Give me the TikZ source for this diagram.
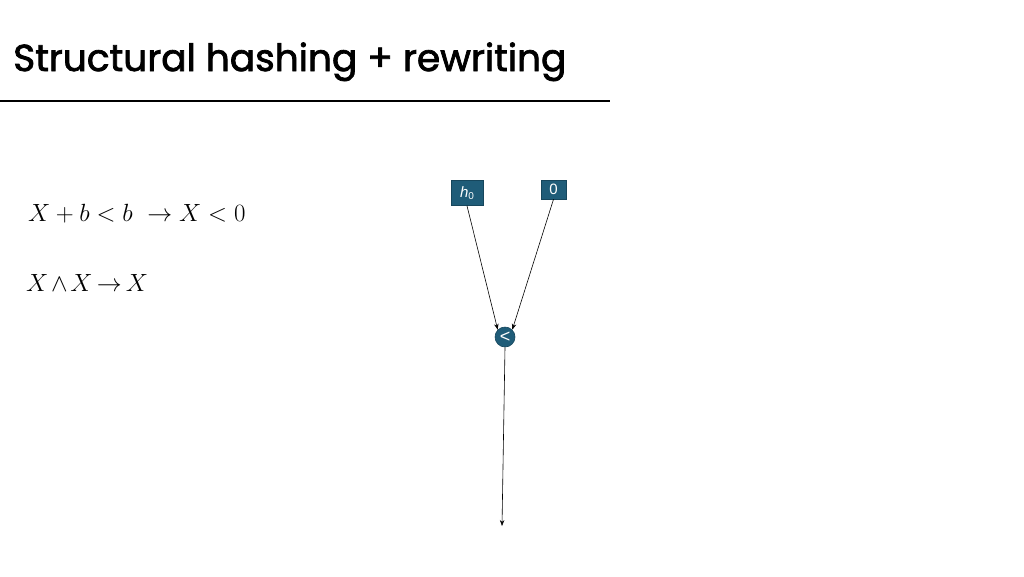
\documentclass[tikz,border=0pt]{standalone}
\usepackage{fontspec}
\newfontfamily\titlefont{Poppins}[FakeBold=2]
\newfontfamily\nodefont{Liberation Sans}
\usetikzlibrary{arrows.meta}
\definecolor{nodeblue}{HTML}{1F5C78}
\definecolor{nodeedge}{HTML}{16465C}
\tikzset{
  x=1pt,y=-1pt,
  gbox/.style={draw=nodeedge,fill=nodeblue,text=white,font=\nodefont\fontsize{15}{15}\selectfont,inner sep=0pt,line width=0.6pt},
  gop/.style={circle,draw=nodeedge,fill=nodeblue,text=white,font=\nodefont\fontsize{18}{18}\selectfont,inner sep=0pt,minimum size=20pt,line width=0.6pt},
  edge/.style={-{Stealth[length=6pt,width=4.5pt]},line width=0.6pt,black}
}
\begin{document}
\begin{tikzpicture}
\useasboundingbox (0,0) rectangle (1024,576);
\fill[white] (0,0) rectangle (1024,576);
\node[anchor=base west,inner sep=0pt,font=\titlefont\fontsize{37.5}{37.5}\selectfont] (title) at (13,71) {Structural hashing + rewriting};
\draw[line width=2pt] (0,101) -- (610,101);
\node[anchor=base west,inner sep=0pt,font=\fontsize{25}{25}\selectfont] (r1) at (28,221) {$X+b<b\ \rightarrow X<0$};
\node[anchor=base west,inner sep=0pt,font=\fontsize{25}{25}\selectfont] (r2) at (26,291) {$X\mskip2mu{\wedge}\mskip2mu X\mskip3mu{\rightarrow}\mskip3mu X$};
\node[gbox,minimum width=32pt,minimum height=25pt] (h0) at (467,193) {\itshape h\raisebox{-2.5pt}{\fontsize{10}{10}\selectfont\upshape 0}};
\node[gbox,minimum width=25pt,minimum height=19pt] (z) at (553.5,189.5) {0};
\node[gop] (lt) at (505,337) {\raisebox{0.5pt}{<}};
\coordinate (out) at (502,526);
\draw[edge] (h0.south) -- (lt.north west);
\draw[edge] (z.south) -- (lt.north east);
\draw[edge] (lt.south) -- (out);
\end{tikzpicture}
\end{document}
